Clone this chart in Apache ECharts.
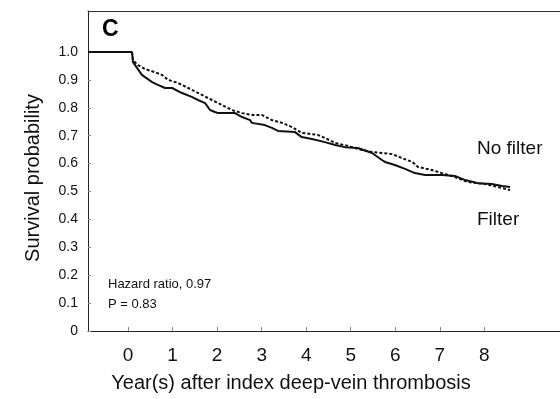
<!DOCTYPE html>
<html>
<head>
<meta charset="utf-8">
<script src="https://cdn.jsdelivr.net/npm/echarts@6/dist/echarts.min.js"></script>
<style>html,body{margin:0;padding:0;background:#fff;}#c{width:560px;height:399px;}</style>
</head>
<body>
<div id="c"></div>
<script>
// Filter (solid) curve: [years, survival]
const filterX = [-0.9, 0.088, 0.11, 0.31, 0.54, 0.67, 0.83, 0.99, 1.21, 1.43, 1.57, 1.73, 1.84, 1.95, 2.02, 2.40, 2.56, 2.74, 2.78, 3.07, 3.23, 3.37, 3.75, 3.90, 4.13, 4.42, 4.65, 4.87, 5.16, 5.48, 5.70, 5.77, 5.99, 6.22, 6.44, 6.67, 7.05, 7.34, 7.57, 7.86, 8.17, 8.40, 8.58];
const filterY = [1.0, 1.0, 0.964, 0.918, 0.892, 0.882, 0.871, 0.871, 0.853, 0.839, 0.828, 0.817, 0.792, 0.785, 0.781, 0.781, 0.767, 0.756, 0.746, 0.738, 0.728, 0.717, 0.713, 0.695, 0.688, 0.677, 0.667, 0.659, 0.656, 0.638, 0.613, 0.606, 0.595, 0.581, 0.566, 0.559, 0.559, 0.556, 0.541, 0.530, 0.527, 0.520, 0.516];
// No filter (dashed) curve
const noFilterX = [0.088, 0.11, 0.22, 0.38, 0.60, 0.76, 0.90, 1.12, 1.35, 1.66, 1.88, 2.11, 2.33, 2.56, 2.80, 3.01, 3.23, 3.46, 3.68, 3.90, 4.26, 4.42, 4.65, 4.94, 5.25, 5.48, 5.70, 5.93, 6.15, 6.38, 6.51, 6.82, 7.05, 7.34, 7.63, 8.01, 8.31, 8.58];
const noFilterY = [1.0, 0.971, 0.953, 0.939, 0.928, 0.918, 0.900, 0.889, 0.871, 0.846, 0.828, 0.810, 0.792, 0.781, 0.774, 0.774, 0.756, 0.746, 0.731, 0.710, 0.703, 0.692, 0.674, 0.663, 0.649, 0.642, 0.638, 0.634, 0.620, 0.606, 0.588, 0.577, 0.566, 0.552, 0.534, 0.527, 0.516, 0.505];
const xTicks = [0, 1, 2, 3, 4, 5, 6, 7, 8];
const yTicks = [0, 0.1, 0.2, 0.3, 0.4, 0.5, 0.6, 0.7, 0.8, 0.9, 1.0];
const panelLabel = 'C';
const seriesNames = ['No filter', 'Filter'];
const statsText = ['Hazard ratio, 0.97', 'P = 0.83'];
const xTitle = 'Year(s) after index deep-vein thrombosis';
const yTitle = 'Survival probability';

const zip = (a, b) => a.map((v, i) => [v, b[i]]);
const font = '"Liberation Sans", Arial, sans-serif';
const chart = echarts.init(document.getElementById('c'), null, {renderer: 'canvas'});
chart.setOption({
  animation: false,
  backgroundColor: '#fff',
  grid: {left: 88, top: 11, right: 0, bottom: 68, show: false},
  xAxis: [{
    type: 'value', min: -0.9, max: 9.7,
    axisLine: {show: true, onZero: false, lineStyle: {color: '#222', width: 1}},
    axisTick: {show: true, inside: true, length: 4, customValues: xTicks, lineStyle: {color: '#888'}},
    axisLabel: {customValues: xTicks, fontSize: 19, color: '#111', margin: 15, fontFamily: font},
    splitLine: {show: false}
  }, {
    type: 'value', position: 'top', min: -0.9, max: 9.7,
    axisLine: {show: true, onZero: false, lineStyle: {color: '#333', width: 1}},
    axisTick: {show: false}, axisLabel: {show: false}, splitLine: {show: false}
  }],
  yAxis: {
    type: 'value', min: 0, max: 1.147,
    axisLine: {show: true, onZero: false, lineStyle: {color: '#222', width: 1}},
    axisTick: {show: true, inside: true, length: 3, customValues: yTicks, lineStyle: {color: '#888'}},
    axisLabel: {customValues: yTicks, fontSize: 14, color: '#111', margin: 10, fontFamily: font,
      formatter: v => v === 0 ? '0' : v.toFixed(1)},
    splitLine: {show: false}
  },
  series: [
    {name: seriesNames[0], type: 'line', xAxisIndex: 0, data: zip(noFilterX, noFilterY), symbol: 'none',
      lineStyle: {color: '#111', width: 2, type: [3, 2]}},
    {name: seriesNames[1], type: 'line', xAxisIndex: 0, data: zip(filterX, filterY), symbol: 'none',
      lineStyle: {color: '#111', width: 2}}
  ],
  graphic: [
    {type: 'text', left: 102, top: 18, style: {text: panelLabel, font: 'bold 23px ' + font, fill: '#000'}},
    {type: 'text', left: 477, top: 139, style: {text: seriesNames[0], font: '19px ' + font, fill: '#111'}},
    {type: 'text', left: 477, top: 210, style: {text: seriesNames[1], font: '19px ' + font, fill: '#111'}},
    {type: 'text', left: 108, top: 278, style: {text: statsText[0], font: '13px ' + font, fill: '#111'}},
    {type: 'text', left: 108, top: 298, style: {text: statsText[1], font: '13px ' + font, fill: '#111'}},
    {type: 'text', x: 291, y: 383, style: {text: xTitle, font: '20px ' + font, fill: '#111', align: 'center', verticalAlign: 'middle'}},
    {type: 'text', x: 33, y: 178, rotation: Math.PI / 2, style: {text: yTitle, font: '20px ' + font, fill: '#111', align: 'center', verticalAlign: 'middle'}}
  ]
});
</script>
</body>
</html>
